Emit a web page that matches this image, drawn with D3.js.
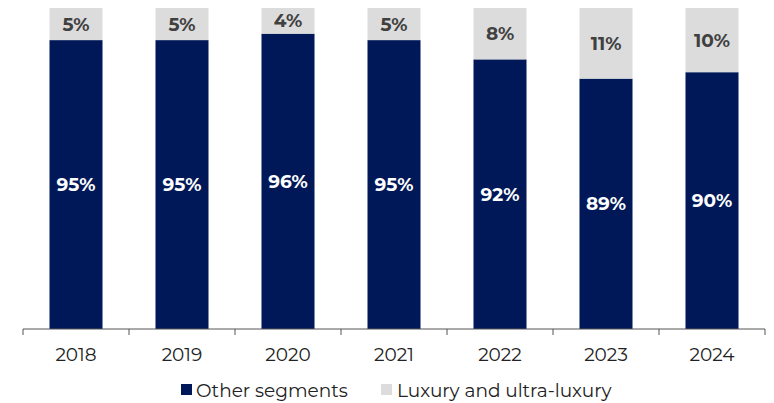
<!DOCTYPE html>
<html>
<head>
<meta charset="utf-8">
<script src="https://cdn.jsdelivr.net/npm/d3@7"></script>
<style>
  html, body { margin: 0; padding: 0; background: #fff; }
  svg { display: block; font-family: "Montserrat", "Open Sans", "DejaVu Sans", sans-serif; }
</style>
</head>
<body>
<svg id="chart" width="774" height="403"></svg>
<script>
const years = ["2018", "2019", "2020", "2021", "2022", "2023", "2024"];
const otherSegments = [95, 95, 96, 95, 92, 89, 90];
const luxury = [5, 5, 4, 5, 8, 11, 10];
const seriesNames = ["Other segments", "Luxury and ultra-luxury"];
const colors = ["#001858", "#dcdcdc"];

const svg = d3.select("#chart");
const margin = { left: 23, right: 9, top: 8, bottom: 74 };
const W = 774, H = 403;

const x = d3.scaleBand().domain(years).range([margin.left, W - margin.right]).paddingInner(0.5).paddingOuter(0.25);
const y = d3.scaleLinear().domain([50, 100]).range([H - margin.bottom, margin.top]);

const data = years.map((yr, i) => ({ year: yr, other: otherSegments[i], lux: luxury[i] }));

// other segments bars
svg.append("g").selectAll("rect").data(data).join("rect")
  .attr("x", d => x(d.year))
  .attr("width", x.bandwidth())
  .attr("y", d => y(d.other))
  .attr("height", d => y(50) - y(d.other))
  .attr("fill", colors[0]);

// luxury bars
svg.append("g").selectAll("rect").data(data).join("rect")
  .attr("x", d => x(d.year))
  .attr("width", x.bandwidth())
  .attr("y", d => y(d.other + d.lux))
  .attr("height", d => y(d.other) - y(d.other + d.lux))
  .attr("fill", colors[1]);

// labels
svg.append("g").selectAll("text").data(data).join("text")
  .attr("x", d => x(d.year) + x.bandwidth() / 2)
  .attr("y", d => (y(d.other) + y(50)) / 2)
  .attr("dy", "0.35em")
  .attr("text-anchor", "middle")
  .attr("fill", "#fff")
  .attr("font-weight", "bold")
  .attr("font-size", 18.5)
  .text(d => d.other + "%");

svg.append("g").selectAll("text").data(data).join("text")
  .attr("x", d => x(d.year) + x.bandwidth() / 2)
  .attr("y", d => (y(d.other) + y(d.other + d.lux)) / 2)
  .attr("dy", "0.35em")
  .attr("text-anchor", "middle")
  .attr("fill", "#404040")
  .attr("font-weight", "bold")
  .attr("font-size", 18.5)
  .text(d => d.lux + "%");

// x axis
const axis = svg.append("g").attr("transform", `translate(0,${y(50)})`);
axis.append("line")
  .attr("x1", margin.left).attr("x2", W - margin.right)
  .attr("stroke", "#555").attr("stroke-width", 1);
const step = x.step();
const bounds = d3.range(years.length + 1).map(i => margin.left + i * step);
axis.selectAll("line.tick").data(bounds).join("line")
  .attr("class", "tick")
  .attr("x1", d => d).attr("x2", d => d)
  .attr("y1", 0).attr("y2", 6)
  .attr("stroke", "#555").attr("stroke-width", 1);
axis.selectAll("text").data(years).join("text")
  .attr("x", d => x(d) + x.bandwidth() / 2)
  .attr("y", 32)
  .attr("text-anchor", "middle")
  .attr("fill", "#222")
  .attr("font-size", 18.5)
  .text(d => d);

// legend
const legendItems = [
  { name: seriesNames[0], color: colors[0], sx: 181, tx: 196 },
  { name: seriesNames[1], color: colors[1], sx: 381, tx: 397 }
];
const lg = svg.append("g");
legendItems.forEach(it => {
  lg.append("rect").attr("x", it.sx).attr("y", 384).attr("width", 11).attr("height", 11).attr("fill", it.color);
  lg.append("text").attr("x", it.tx).attr("y", 397).attr("font-size", 18.5).attr("fill", "#222").text(it.name);
});
</script>
</body>
</html>
